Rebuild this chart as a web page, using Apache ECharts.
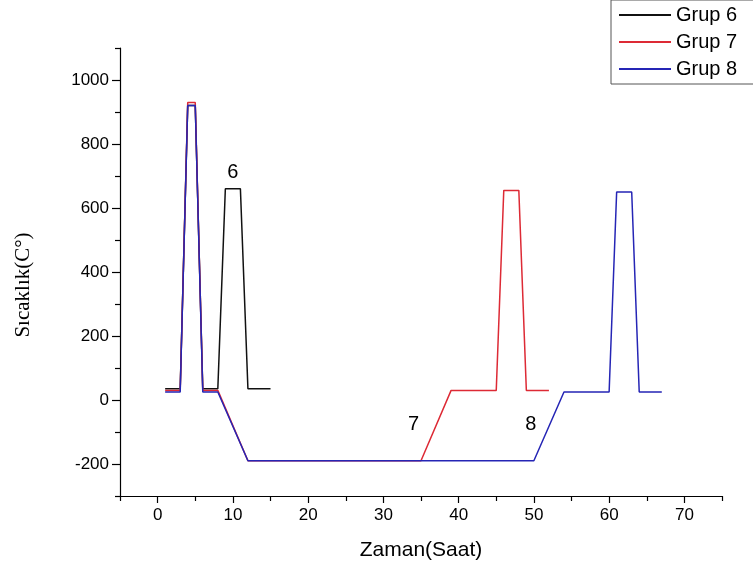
<!DOCTYPE html>
<html>
<head>
<meta charset="utf-8">
<script src="https://cdn.jsdelivr.net/npm/echarts@6/dist/echarts.min.js"></script>
<style>html,body{margin:0;padding:0;background:#fff}#c{width:753px;height:574px}</style>
</head>
<body>
<div id="c"></div>
<script>
// ---- data ----
var seriesNames = ['Grup 6', 'Grup 7', 'Grup 8'];
var grup6X = [1, 3, 4, 5, 6, 8, 9, 11, 12, 15];
var grup6Y = [35, 35, 920, 920, 35, 35, 660, 660, 35, 35];
var grup7X = [1, 3, 4, 5, 6, 8, 12, 35, 39, 45, 46, 48, 49, 52];
var grup7Y = [30, 30, 930, 930, 30, 30, -190, -190, 30, 30, 655, 655, 30, 30];
var grup8X = [1, 3, 4, 5, 6, 8, 12, 50, 54, 60, 61, 63, 64, 67];
var grup8Y = [25, 25, 920, 920, 25, 25, -190, -190, 25, 25, 650, 650, 25, 25];
var xLabelValues = [0, 10, 20, 30, 40, 50, 60, 70];
var xMinorValues = [-5, 5, 15, 25, 35, 45, 55, 65, 75];
var yLabelValues = [-200, 0, 200, 400, 600, 800, 1000];
var yMinorValues = [-300, -100, 100, 300, 500, 700, 900, 1100];
var annoText = ['6', '7', '8'];
var annoX = [10, 34, 49.6];
var annoY = [712, -75, -75];

function pairs(xs, ys) { return xs.map(function (x, i) { return [x, ys[i]]; }); }
var colors = ['#111111', '#dd2a35', '#2525b5'];
var font = 'Liberation Sans, Arial, sans-serif';

var chart = echarts.init(document.getElementById('c'));
var axisLineStyle = { color: '#000', width: 1.2 };
var plainNum = function (v) { return String(v); };
var option = {
  animation: false,
  backgroundColor: '#fff',
  grid: { left: 120, right: 31, top: 48, bottom: 78, containLabel: false },
  legend: {
    orient: 'vertical', left: 611, top: 0,
    itemWidth: 52, itemHeight: 2, itemGap: 7, icon: 'rect',
    borderColor: '#555', borderWidth: 1, padding: [5, 40, 5, 8],
    textStyle: { fontFamily: font, fontSize: 20, color: '#000', lineHeight: 20 },
    data: seriesNames
  },
  xAxis: [{
    type: 'value', min: -5, max: 75, position: 'bottom',
    name: 'Zaman(Saat)', nameLocation: 'middle', nameGap: 44,
    nameTextStyle: { fontFamily: font, fontSize: 21, color: '#000' },
    axisLine: { show: true, onZero: false, lineStyle: axisLineStyle },
    axisTick: { show: true, inside: false, length: 7, customValues: xLabelValues, lineStyle: axisLineStyle },
    axisLabel: { show: true, customValues: xLabelValues, margin: 11, fontFamily: font, fontSize: 17, color: '#000', formatter: plainNum },
    splitLine: { show: false }
  }, {
    type: 'value', min: -5, max: 75, position: 'bottom', gridIndex: 0,
    axisLine: { show: false, onZero: false },
    axisTick: { show: true, length: 5, customValues: xMinorValues, lineStyle: axisLineStyle },
    axisLabel: { show: false },
    splitLine: { show: false }
  }],
  yAxis: [{
    type: 'value', min: -300, max: 1100, position: 'left',
    name: 'Sıcaklık(C°)', nameLocation: 'middle', nameGap: 86, nameRotate: 90,
    nameTextStyle: { fontFamily: 'Liberation Serif, Times New Roman, serif', fontSize: 21, color: '#000', padding: [0, 26, 0, 0] },
    axisLine: { show: true, onZero: false, lineStyle: axisLineStyle },
    axisTick: { show: true, length: 8, customValues: yLabelValues, lineStyle: axisLineStyle },
    axisLabel: { show: true, customValues: yLabelValues, margin: 11, fontFamily: font, fontSize: 17, color: '#000', formatter: plainNum },
    splitLine: { show: false }
  }, {
    type: 'value', min: -300, max: 1100, position: 'left',
    axisLine: { show: false, onZero: false },
    axisTick: { show: true, length: 5, customValues: yMinorValues, lineStyle: axisLineStyle },
    axisLabel: { show: false },
    splitLine: { show: false }
  }],
  series: [
    { name: seriesNames[0], type: 'line', data: pairs(grup6X, grup6Y), symbol: 'none', color: colors[0], lineStyle: { width: 1.5 }, z: 2 },
    { name: seriesNames[1], type: 'line', data: pairs(grup7X, grup7Y), symbol: 'none', color: colors[1], lineStyle: { width: 1.5 }, z: 3 },
    { name: seriesNames[2], type: 'line', data: pairs(grup8X, grup8Y), symbol: 'none', color: colors[2], lineStyle: { width: 1.5 }, z: 4 }
  ]
};
chart.setOption(option);

var graphics = annoText.map(function (t, i) {
  var p = chart.convertToPixel({ xAxisIndex: 0, yAxisIndex: 0 }, [annoX[i], annoY[i]]);
  return {
    type: 'text', x: p[0], y: p[1],
    style: { text: t, fontFamily: font, fontSize: 20, fill: '#000', align: 'center', verticalAlign: 'middle' }
  };
});
chart.setOption({ graphic: graphics });
</script>
</body>
</html>
